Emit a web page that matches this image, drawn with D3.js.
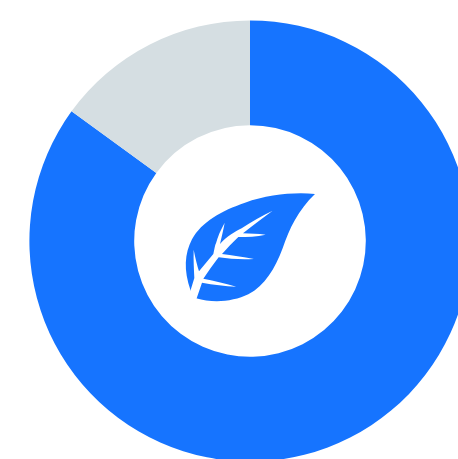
<!DOCTYPE html>
<html>
<head>
<meta charset="utf-8">
<script src="https://cdn.jsdelivr.net/npm/d3@7/dist/d3.min.js"></script>
<style>
  html, body { margin: 0; padding: 0; background: #fff; overflow: hidden; }
  svg { display: block; }
</style>
</head>
<body>
<svg id="chart" width="458" height="459"></svg>
<script>
const categories = ["Filled", "Remaining"];
const values = [85, 15];
const colors = ["#1674ff", "#d5dee2"];

// Leaf emblem outlines, in a 3x drawing unit space
const leafBlade = "M435 42C370 36 295 44 225 68C155 92 95 125 66 178C44 220 40 270 62 332L78 355C130 370 190 365 235 343C285 318 315 265 338 205C358 145 385 90 435 42Z";
const leafVeins = "M56 345L62 330L73 294C72 270 70 240 71 209C76 235 82 258 87 274L130 222C134 205 135 195 138 190C143 170 152 150 164 128C160 150 155 170 150 192C170 170 195 155 215 145C245 125 275 107 308 92C280 112 250 135 219 160C240 161 265 161 287 164C260 170 232 171 205 171C188 188 170 206 156 222C185 226 220 231 252 237C215 239 180 237 146 232C130 252 115 275 100 296C135 303 168 311 199 320C165 319 130 314 96 308L79 358L66 350Z";

const width = 458, height = 459;
const cx = 250, cy = 241, outerRadius = 220.6, innerRadius = 115.8;

const svg = d3.select("#chart");
const pie = d3.pie().sort(null).value(d => d);
const arc = d3.arc().innerRadius(innerRadius).outerRadius(outerRadius);
const color = d3.scaleOrdinal().domain(categories).range(colors);

const ring = svg.append("g").attr("transform", `translate(${cx},${cy})`);
ring.selectAll("path")
  .data(pie(values))
  .join("path")
  .attr("d", arc)
  .attr("fill", (d, i) => color(categories[i]));

const leaf = svg.append("g").attr("transform", "translate(170,180) scale(0.3333)");
leaf.append("path").attr("d", leafBlade).attr("fill", colors[0]);
leaf.append("path").attr("d", leafVeins).attr("fill", "#fff");
</script>
</body>
</html>
